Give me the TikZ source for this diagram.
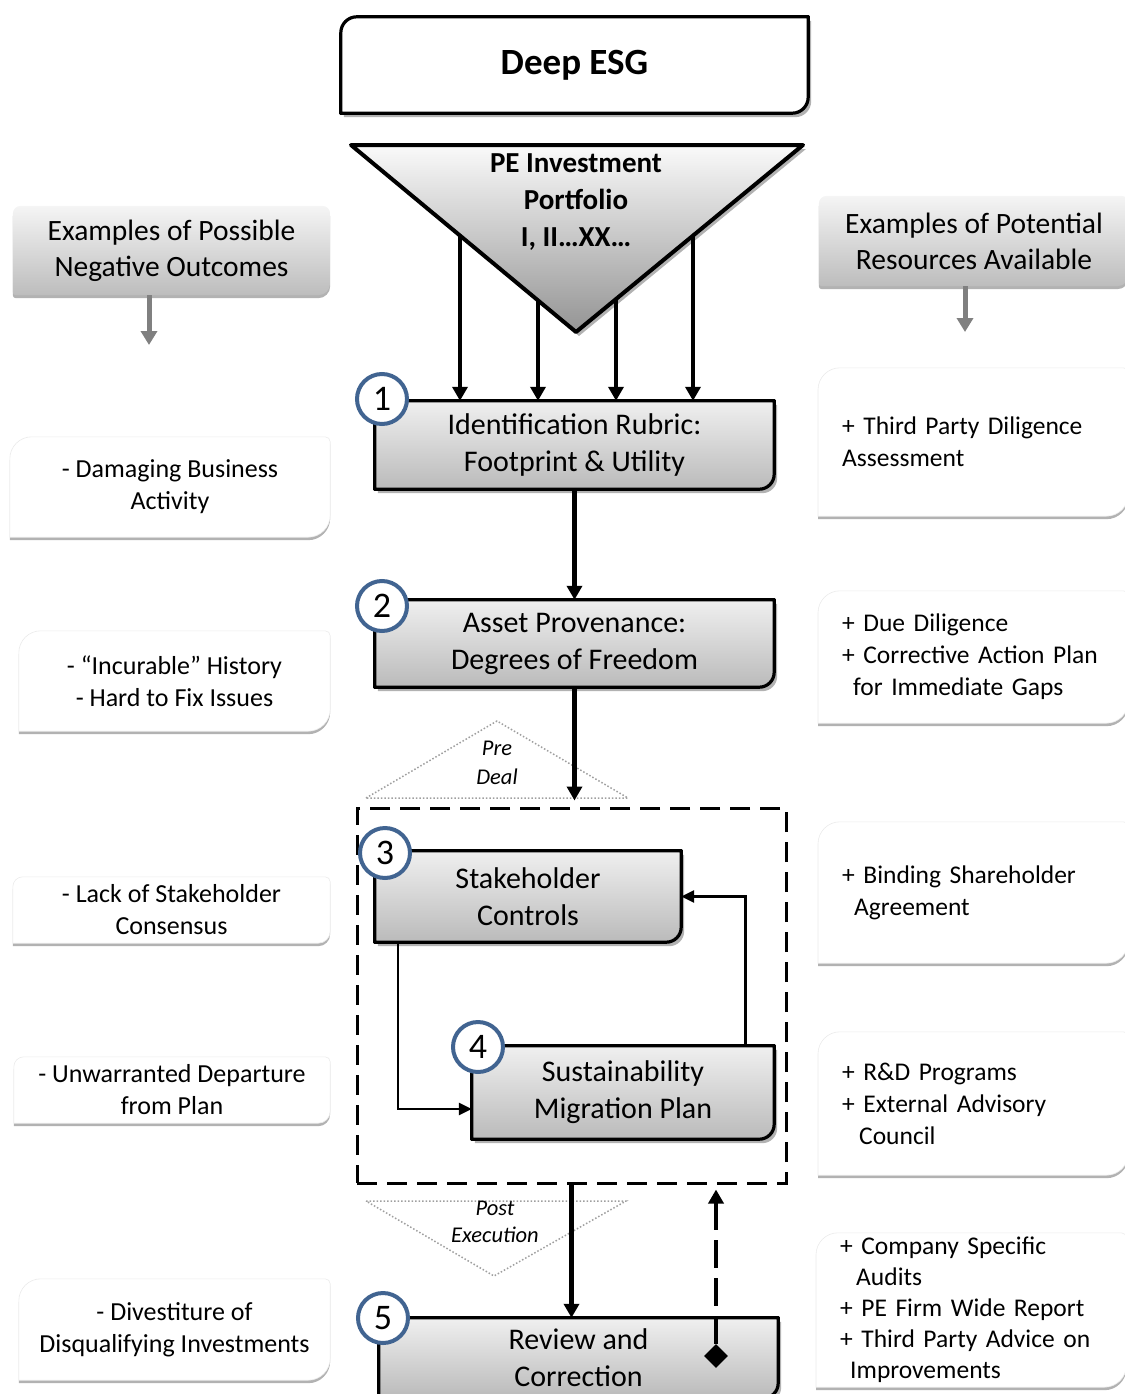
\documentclass[tikz,border=0pt]{standalone}
\usepackage{fontspec}
\setmainfont{Carlito}
\usetikzlibrary{arrows.meta,calc,shapes.geometric,shadows,backgrounds}
\definecolor{cblue}{RGB}{65,100,145}
\definecolor{agray}{RGB}{128,128,128}
% #1 node, #2 TL radius, #3 TR radius, #4 BR radius, #5 BL radius, #6 style
\newcommand\rshape[6]{\path[#6] ($(#1.north west)+(0pt,-#2)$) arc[start angle=180,end angle=90,radius=#2]
  -- ($(#1.north east)+(-#3,0pt)$) arc[start angle=90,end angle=0,radius=#3]
  -- ($(#1.south east)+(0pt,#4)$) arc[start angle=0,end angle=-90,radius=#4]
  -- ($(#1.south west)+(#5,0pt)$) arc[start angle=270,end angle=180,radius=#5] -- cycle;}
\begin{document}
\begin{tikzpicture}[x=1pt,y=-1pt,
  every node/.style={inner sep=0pt},
  mainbox/.style={align=center,font=\fontsize{30}{37}\selectfont},
  sidebox/.style={align=center,font=\fontsize{26}{32}\selectfont},
  headbox/.style={align=center,font=\fontsize{29.5}{36}\selectfont},
  rightbox/.style={anchor=west,inner xsep=24pt,text width=262pt,align=left,font=\fontsize{25.5}{32}\selectfont},
  numc/.style={circle,draw=cblue,line width=4pt,fill=white,minimum size=50pt,font=\fontsize{36}{36}\selectfont},
  mainarrow/.style={line width=4.5pt,-{Triangle[length=14pt,width=15pt]}},
  looparrow/.style={line width=2.6pt,-{Triangle[length=13pt,width=12pt]}},
  grayarrow/.style={draw=agray,line width=5pt,-{Triangle[length=14pt,width=16pt]}},
  dotstyle/.style={draw=gray!75,line width=1.5pt,dotted},
  mshadow/.style={drop shadow={shadow xshift=3pt,shadow yshift=-4pt,opacity=0.3,fill=black}},
  wshadow/.style={drop shadow={shadow xshift=0pt,shadow yshift=-3pt,opacity=0.3,fill=black}},
  mainfill/.style={draw,line width=3.2pt,top color=black!6,bottom color=black!27,mshadow},
  headfill/.style={top color=black!4,bottom color=black!26,wshadow},
  whitefill/.style={fill=white,draw=black!8,line width=0.6pt,wshadow}]
\useasboundingbox (0,0) rectangle (1124,1394);
\clip (0,0) rectangle (1124,1394);

% title
\node[font=\fontsize{37}{37}\selectfont\bfseries,minimum width=467pt,minimum height=96pt] (esg) at (574.5,65) {Deep ESG};

% funnel triangle
\coordinate (tl) at (351,145);
\coordinate (tr) at (803,145);
\coordinate (tap) at (576,332);
\node[font=\fontsize{29}{37}\selectfont\bfseries,align=center] (tri) at (576,202) {PE Investment\\Portfolio\\I, II…XX…};
\coordinate (s1) at ($(tl)!0.4844!(tap)$);
\coordinate (s2) at ($(tl)!0.8311!(tap)$);
\coordinate (s3) at ($(tr)!0.8238!(tap)$);
\coordinate (s4) at ($(tr)!0.4846!(tap)$);

% main boxes
\node[mainbox,minimum width=399pt,minimum height=88pt] (b1) at (574.5,445) {Identification Rubric:\\Footprint \& Utility};
\node[mainbox,minimum width=399pt,minimum height=87pt] (b2) at (574.5,643.5) {Asset Provenance:\\Degrees of Freedom};
\node[draw,line width=3pt,dash pattern=on 20pt off 10pt,minimum width=429pt,minimum height=375pt] (stage) at (571.5,995.5) {};
\node[mainbox,minimum width=306pt,minimum height=91pt] (b3) at (528,896.5) {Stakeholder\\Controls};
\node[mainbox,minimum width=302pt,minimum height=93pt] (b4) at (623,1092.5) {Sustainability\\Migration Plan};
\node[mainbox,minimum width=399pt,minimum height=80pt] (b5) at (578.5,1358) {Review and\\Correction};

% phase labels
\node[font=\fontsize{22.5}{29}\selectfont\itshape,align=center] (pre) at (497,763) {Pre\\Deal};
\node[font=\fontsize{22.5}{27}\selectfont\itshape,align=center] (post) at (495,1222) {Post\\Execution};

% headers
\node[headbox,minimum width=317pt,minimum height=89pt] (lh) at (171.5,250.5) {Examples of Possible\\Negative Outcomes};
\node[headbox,minimum width=310pt,minimum height=90pt] (rh) at (974,241) {Examples of Potential\\Resources Available};
\coordinate (la) at (149,345);
\coordinate (ra) at (965,332);

% left boxes
\node[sidebox,minimum width=320pt,minimum height=100pt] (L1) at (170,487) {- Damaging Business\\Activity};
\node[sidebox,minimum width=311pt,minimum height=100pt] (L2) at (174.5,681) {- “Incurable” History\\- Hard to Fix Issues};
\node[sidebox,minimum width=317pt,minimum height=66pt] (L3) at (171.5,910) {- Lack of Stakeholder\\Consensus};
\node[sidebox,minimum width=316pt,minimum height=66pt] (L4) at (172,1090) {- Unwarranted Departure\\from Plan};
\node[sidebox,minimum width=311pt,minimum height=101pt] (L5) at (174.5,1329.5) {- Divestiture of\\Disqualifying Investments};

% right boxes
\node[rightbox,minimum height=148pt] (R1) at (818,442) {+ Third Party Diligence\\Assessment};
\node[rightbox,minimum height=132pt] (R2) at (818,657) {+ Due Diligence\\+ Corrective Action Plan\\\hspace*{11pt}for Immediate Gaps};
\node[rightbox,minimum height=141pt] (R3) at (818,892.5) {+ Binding Shareholder\\\hspace*{12pt}Agreement};
\node[rightbox,minimum height=143pt] (R4) at (818,1103.5) {+ R\&D Programs\\+ External Advisory\\\hspace*{17pt}Council};
\node[rightbox,minimum height=154pt,font=\fontsize{25.5}{31}\selectfont] (R5) at (816,1310) {+ Company Specific\\\hspace*{16pt}Audits\\+ PE Firm Wide Report\\+ Third Party Advice on\\\hspace*{10pt}Improvements};

% background shapes
\begin{scope}[on background layer]
  \rshape{lh}{8pt}{8pt}{12pt}{3pt}{headfill}
  \rshape{rh}{8pt}{8pt}{12pt}{3pt}{headfill}
  \foreach \n in {L1,L2,L5,R1,R2,R3,R4,R5}{\rshape{\n}{22pt}{5pt}{22pt}{0.1pt}{whitefill}}
  \foreach \n in {L3,L4}{\rshape{\n}{10pt}{5pt}{12pt}{0.1pt}{whitefill}}
  \rshape{esg}{16pt}{0.1pt}{16pt}{0.1pt}{draw,line width=3.2pt,fill=white,mshadow}
  \path[draw,line width=4pt,line join=round,top color=black!2,bottom color=black!42,mshadow] (tl) -- (tr) -- (tap) -- cycle;
  \rshape{b1}{0.1pt}{0.1pt}{15pt}{0.1pt}{mainfill}
  \rshape{b2}{0.1pt}{0.1pt}{15pt}{0.1pt}{mainfill}
  \rshape{b3}{0.1pt}{0.1pt}{15pt}{0.1pt}{mainfill}
  \rshape{b4}{0.1pt}{0.1pt}{15pt}{0.1pt}{mainfill}
  \rshape{b5}{0.1pt}{0.1pt}{15pt}{0.1pt}{mainfill}
  \path[dotstyle] (366,798) -- (497,721) -- (628,798) -- cycle;
  \path[dotstyle] (366,1201) -- (626,1201) -- (494,1276) -- cycle;
\end{scope}

% connectors
\draw[grayarrow] (lh.south -| la) -- (la);
\draw[grayarrow] (rh.south -| ra) -- (ra);
\foreach \s in {s1,s2,s3,s4}{\draw[mainarrow] (\s) -- (\s |- b1.north);}
\draw[mainarrow] (b1.south) -- (b2.north);
\draw[mainarrow,shorten >=6pt] (b2.south) -- (b2.south |- stage.north);
\draw[looparrow] ([xshift=23pt]b3.south west) |- ([yshift=-16.5pt]b4.west);
\draw[looparrow] ([xshift=-29pt]b4.north east) |- (b3.east);
\draw[mainarrow] (stage.south) -- (stage.south |- b5.north);
\node[diamond,fill=black,minimum width=24pt,minimum height=24pt] (dia) at (716,1356) {};
\draw[line width=4.5pt,dash pattern=on 28pt off 10pt,-{Triangle[length=14pt,width=15pt]},shorten >=5pt] (dia.north) -- (dia.north |- stage.south);

% number circles
\node[numc] (c1) at (382,399) {1};
\node[numc] (c2) at (382,606) {2};
\node[numc] (c3) at (385,853) {3};
\node[numc] (c4) at (478,1047) {4};
\node[numc] (c5) at (383,1318) {5};
\end{tikzpicture}
\end{document}
